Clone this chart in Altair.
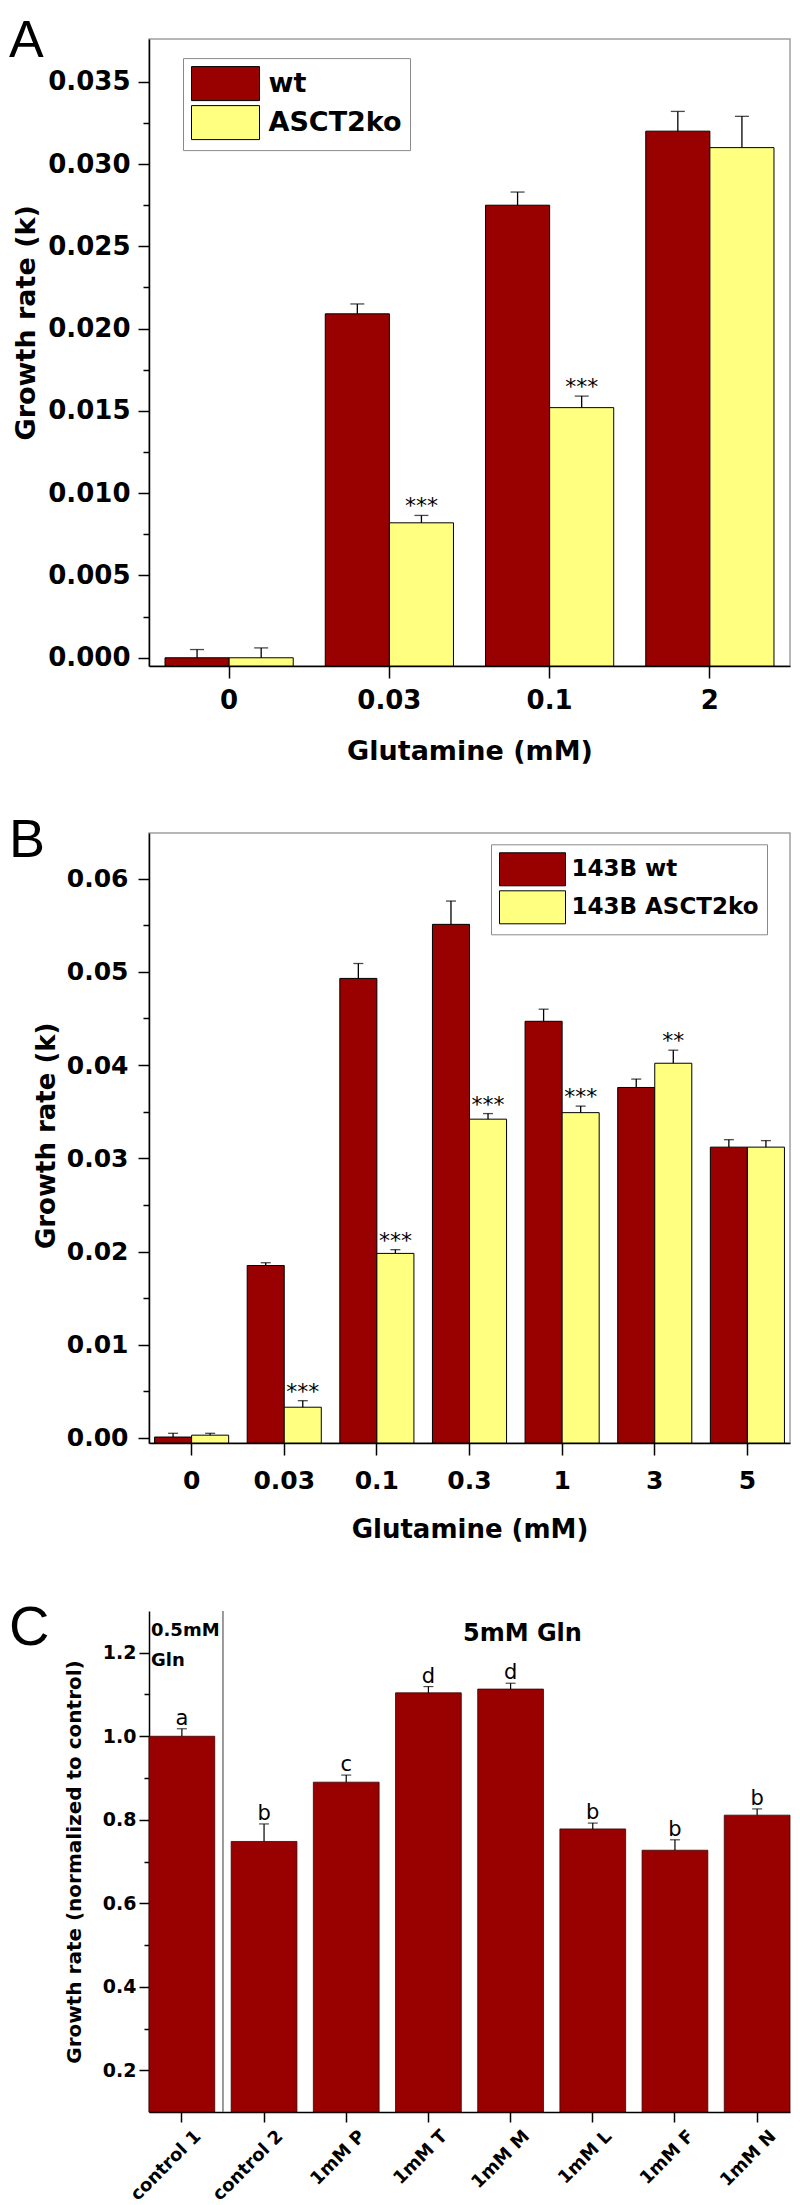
import altair as alt
import pandas as pd

FONT = "DejaVu Sans"
LETTER_FONT = "Liberation Sans"
RED = "#990000"
YEL = "#ffff80"

# ---------------- Panel A ----------------
conc_A = ["0", "0.03", "0.1", "2"]
series_A = ["wt", "ASCT2ko"]
wt_A = [0.0000, 0.0209, 0.0275, 0.0320]
wt_A_err = [0.0005, 0.0006, 0.0008, 0.0012]
ko_A = [0.0000, 0.0082, 0.0152, 0.0310]
ko_A_err = [0.0006, 0.00045, 0.0007, 0.0019]
sig_A = ["", "***", "***", ""]
yticks_A = [0.0, 0.0025, 0.005, 0.0075, 0.01, 0.0125, 0.015, 0.0175, 0.02,
            0.0225, 0.025, 0.0275, 0.03, 0.0325, 0.035]

# ---------------- Panel B ----------------
conc_B = ["0", "0.03", "0.1", "0.3", "1", "3", "5"]
series_B = ["143B wt", "143B ASCT2ko"]
wt_B = [0.0001, 0.0185, 0.0493, 0.0551, 0.0447, 0.0376, 0.0312]
wt_B_err = [0.0004, 0.0003, 0.0016, 0.0025, 0.0013, 0.0009, 0.0008]
ko_B = [0.0003, 0.0033, 0.0198, 0.0342, 0.0349, 0.0402, 0.0312]
ko_B_err = [0.0002, 0.0007, 0.0004, 0.0006, 0.0007, 0.0014, 0.0007]
sig_B = ["", "***", "***", "***", "***", "**", ""]
yticks_B = [0.0, 0.005, 0.01, 0.015, 0.02, 0.025, 0.03, 0.035, 0.04, 0.045,
            0.05, 0.055, 0.06]

# ---------------- Panel C ----------------
cats_C = ["control 1", "control 2", "1mM P", "1mM T", "1mM M", "1mM L", "1mM F", "1mM N"]
vals_C = [1.000, 0.748, 0.890, 1.104, 1.113, 0.778, 0.727, 0.811]
err_C = [0.018, 0.042, 0.017, 0.015, 0.014, 0.014, 0.025, 0.015]
letters_C = ["a", "b", "c", "d", "d", "b", "b", "b"]
yticks_C = [0.2, 0.3, 0.4, 0.5, 0.6, 0.7, 0.8, 0.9, 1.0, 1.1, 1.2]

W = 641          # plot width of every panel
LETTER_X = -140  # panel letters sit at the left edge


def major_test(step):
    return f"abs(datum.value / {step} - round(datum.value / {step})) < 0.01"


def panel_letter(letter, y, size):
    return alt.Chart(pd.DataFrame({"t": [letter]})).mark_text(
        font=LETTER_FONT, fontSize=size, align="left", baseline="alphabetic", color="black"
    ).encode(x=alt.value(LETTER_X), y=alt.value(y), text="t:N")


def top_gap(y):
    # invisible zero-length rule that reserves space above a panel
    return alt.Chart(pd.DataFrame({"k": [0]})).mark_rule(
        color="white", strokeOpacity=0, strokeWidth=0.5).encode(
        x=alt.value(0), y=alt.value(y), y2=alt.value(y + 1))


def grouped(conc, series, wt, wt_err, ko, ko_err, sig, ydom, yvals, step, fmt,
            height, pad_out, lab_fs, title_fs, ytitle_fs, ytx, yty, ylabpad, xlabpad, xtitlepad,
            leg_x, leg_y, leg_fs, sym_h, lab_off, row_pad, pad_text, cap, letter, let_y, let_fs,
            gap_y):
    n = len(conc)
    df = pd.DataFrame({
        "conc": conc + conc,
        "series": [series[0]] * n + [series[1]] * n,
        "value": wt + ko,
        "err": wt_err + ko_err,
        "sig": [""] * n + sig,
    })
    df["top"] = df["value"] + df["err"]
    test = major_test(step)
    xscale = alt.Scale(domain=conc, paddingInner=0.2, paddingOuter=pad_out)
    xaxis = alt.Axis(title="Glutamine (mM)", labelAngle=0, tickSize=12, labelPadding=xlabpad,
                     labelFontSize=lab_fs, titleFontSize=title_fs, titlePadding=xtitlepad,
                     domainWidth=1.5, tickWidth=1.5)
    x = alt.X("conc:N", scale=xscale, axis=xaxis)
    xo = alt.XOffset("series:N", scale=alt.Scale(domain=series, paddingInner=0, paddingOuter=0))
    yscale = alt.Scale(domain=ydom, nice=False, zero=False)
    yaxis = alt.Axis(values=yvals, labelExpr=f"({test}) ? format(datum.value, '{fmt}') : ''",
                     tickSize={"condition": {"test": test, "value": 11}, "value": 6},
                     labelOverlap=False, labelFlush=False,
                     labelPadding=ylabpad, labelFontSize=lab_fs, title="Growth rate (k)",
                     titleFontSize=ytitle_fs, titleX=ytx, titleY=yty, titleBaseline="middle",
                     titleAlign="center", domainWidth=1.5, tickWidth=1.5)
    base = alt.Chart(df)
    bars = base.mark_bar(stroke="black", strokeWidth=1, opacity=1).encode(
        x=x, xOffset=xo,
        y=alt.Y("value:Q", scale=yscale, axis=yaxis),
        y2=alt.datum(ydom[0]),
        color=alt.Color("series:N", scale=alt.Scale(domain=series, range=[RED, YEL]),
                        legend=alt.Legend(
                            orient="none", legendX=leg_x, legendY=leg_y, title=None,
                            symbolType="M-1,-1H3V1H-1Z", symbolSize=sym_h * sym_h,
                            symbolStrokeColor="black", symbolStrokeWidth=1, symbolOpacity=1,
                            labelFont=FONT, labelFontWeight="bold", labelFontSize=leg_fs,
                            labelColor="black", labelOffset=lab_off, rowPadding=row_pad,
                            labelLimit=400,
                            strokeColor="#8a8a8a", fillColor="white", padding=8,
                            labelExpr="datum.label + '" + pad_text + "'")),
    )
    rules = base.mark_rule(color="black", strokeWidth=1.3).encode(
        x=x, xOffset=xo, y=alt.Y("value:Q", scale=yscale, axis=yaxis), y2="top:Q")
    caps = base.mark_tick(color="black", thickness=1.3, size=cap, orient="horizontal").encode(
        x=x, xOffset=xo, y=alt.Y("top:Q", scale=yscale, axis=yaxis))
    stars = base.mark_text(dy=-9, fontSize=22, font=FONT, color="black").encode(
        x=x, xOffset=xo, y=alt.Y("top:Q", scale=yscale, axis=yaxis), text="sig:N")
    let = panel_letter(letter, let_y, let_fs)
    layers = [bars, rules, caps, stars, let]
    if gap_y is not None:
        layers.append(top_gap(gap_y))
    return alt.layer(*layers).properties(width=W, height=height)


panelA = grouped(conc_A, series_A, wt_A, wt_A_err, ko_A, ko_A_err, sig_A,
                 [-0.0005, 0.0376], yticks_A, 0.005, ".3f",
                 627, 0.1, 26, 27, 27, -123, 283.3, 8, 9, 25,
                 34, 19.1, 27, 34, 42.5, 0, "\u00a0\u00a0\u00a0", 14, "A", 17.5, 52, -30.2)

panelB = grouped(conc_B, series_B, wt_B, wt_B_err, ko_B, ko_B_err, sig_B,
                 [-0.00054, 0.0649], yticks_B, 0.01, ".2f",
                 610, 0.06, 25, 26, 26, -103, 302.3, 10, 13, 23,
                 342, 11.3, 23, 33, 38.5, 0, "\u00a0\u00a0", 10, "B", 24, 54, None)

# ---------------- Panel C chart ----------------
PAD_IN_C, PAD_OUT_C = 0.2, 0.0
dfC = pd.DataFrame({"cat": cats_C, "value": vals_C, "err": err_C, "letter": letters_C})
dfC["top"] = dfC["value"] + dfC["err"]
testC = major_test(0.2)
xsC = alt.Scale(domain=cats_C, paddingInner=PAD_IN_C, paddingOuter=PAD_OUT_C)
xaxC = alt.Axis(title=None, labelAngle=-45, labelFontSize=18, tickSize=10,
                labelPadding=5, labelOffset=10, domainWidth=1.5, tickWidth=1.5)
xC = alt.X("cat:N", scale=xsC, axis=xaxC)
ysC = alt.Scale(domain=[0.1, 1.3], nice=False, zero=False)
yaC = alt.Axis(values=yticks_C, labelExpr=f"({testC}) ? format(datum.value, '.1f') : ''",
               tickSize={"condition": {"test": testC, "value": 10}, "value": 5},
               labelOverlap=False, labelFlush=False, labelPadding=3, labelFontSize=19,
               title="Growth rate (normalized to control)", titleFontSize=20,
               titleX=-75, titleBaseline="middle", titleAlign="center",
               domainWidth=1.5, tickWidth=1.5)
baseC = alt.Chart(dfC)
barsC = baseC.mark_bar(color=RED, stroke="#3a0000", strokeWidth=0.8).encode(
    x=xC, y=alt.Y("value:Q", scale=ysC, axis=yaC), y2=alt.datum(0.1))
rulesC = baseC.mark_rule(color="black", strokeWidth=1.2).encode(
    x=xC, y=alt.Y("value:Q", scale=ysC, axis=yaC), y2="top:Q")
capsC = baseC.mark_tick(color="black", thickness=1.2, size=10, orient="horizontal").encode(
    x=xC, y=alt.Y("top:Q", scale=ysC, axis=yaC))
lettersC = baseC.mark_text(dy=-10, fontSize=21, font=FONT, color="black").encode(
    x=xC, y=alt.Y("top:Q", scale=ysC, axis=yaC), text="letter:N")

# separator between the 0.5 mM control and the 5 mM group (midway in the gap between bands)
stepC = W / (len(cats_C) - PAD_IN_C + 2 * PAD_OUT_C)
sep_x = stepC * (PAD_OUT_C + 1 - PAD_IN_C / 2)
sepC = alt.Chart(pd.DataFrame({"k": [0]})).mark_rule(
    color="#7a7a7a", strokeWidth=1.5).encode(
    x=alt.value(sep_x), y=alt.Y(datum=1.3, scale=ysC, axis=yaC), y2=alt.datum(0.1))

headC = alt.Chart(pd.DataFrame({"cat": ["1mM M"], "y": [1.244], "t": ["5mM Gln"]})).mark_text(
    font=FONT, fontWeight="bold", fontSize=24, color="black", baseline="middle").encode(
    x=alt.X("cat:N", bandPosition=0.68, scale=xsC, axis=xaxC),
    y=alt.Y("y:Q", scale=ysC, axis=yaC), text="t:N")

subC = alt.Chart(pd.DataFrame({"cat": ["control 1", "control 1"], "y": [1.252, 1.18],
                               "t": ["0.5mM", "Gln"]})).mark_text(
    font=FONT, fontWeight="bold", fontSize=18, color="black", baseline="middle",
    align="left", dx=2).encode(
    x=alt.X("cat:N", bandPosition=0, scale=xsC, axis=xaxC),
    y=alt.Y("y:Q", scale=ysC, axis=yaC), text="t:N")

letC = panel_letter("C", 34, 56)

panelC = alt.layer(barsC, rulesC, capsC, lettersC, sepC, headC, subC, letC,
                   top_gap(-19)).properties(
    width=W, height=501, view=alt.ViewBackground(stroke="transparent"))

chart = alt.vconcat(panelA, panelB, panelC, spacing=48).resolve_scale(
    x="independent", y="independent", color="independent", xOffset="independent"
).resolve_axis(x="independent", y="independent").resolve_legend(color="independent").properties(
    padding={"left": 0, "top": 0, "right": 0, "bottom": 0}
).configure_axis(
    labelFont=FONT, titleFont=FONT, labelFontWeight="bold", titleFontWeight="bold",
    labelColor="black", titleColor="black", domainColor="black", tickColor="black", grid=False
).configure_view(stroke="#a0a0a0", strokeWidth=1.5)

chart.save("out.html", embed_options={"renderer": "svg", "actions": False})
